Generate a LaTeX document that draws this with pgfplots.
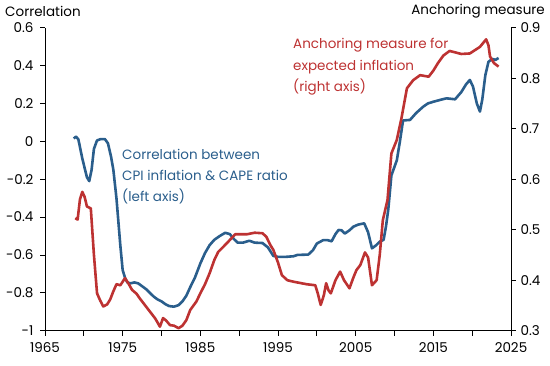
\documentclass[border=0pt]{standalone}
\usepackage{pgfplots}
\pgfplotsset{compat=1.18}
\usepackage{fontspec}
\setmainfont{Poppins}
\definecolor{cblue}{RGB}{42,94,140}
\definecolor{cred}{RGB}{189,50,50}
\begin{document}
\begin{tikzpicture}[x=1pt,y=1pt]
\path[use as bounding box] (0,0) rectangle (550,365);
\pgfplotsset{every axis/.append style={
  scale only axis, width=466pt, height=303pt,
  at={(45pt,34.3pt)}, anchor=south west,
  xmin=1965, xmax=2025,
  /pgf/number format/assume math mode=true,
  tick label style={font=\fontsize{13.5}{15}\selectfont},
  major tick length=5pt, minor tick length=5pt,
  tick align=outside,
  axis line style={line width=0.8pt},
  every tick/.style={black, line width=0.8pt},
  clip=false,
}}
\begin{axis}[
  axis x line*=bottom, axis y line*=left,
  ymin=-1, ymax=0.6,
  ytick={-1,-0.8,...,0.6},
  yticklabels={-1,-0.8,-0.6,-0.4,-0.2,0,0.2,0.4,0.6},
  xtick={1965,1975,...,2025},
  xticklabels={1965,1975,1985,1995,2005,2015,2025},
  minor xtick={1970,1980,...,2020},
  yticklabel style={xshift=-3pt},
  xticklabel style={yshift=-3pt},
]
\addplot[cblue, line width=2.6pt, line join=round] coordinates {
(1968.7,0.015)(1969.0,0.025)(1969.3,0.01)(1969.8,-0.09)(1970.4,-0.19)(1970.7,-0.21)
(1971.0,-0.15)(1971.3,-0.04)(1971.7,0.005)(1972.2,0.012)(1972.7,0.012)(1973.1,-0.01)
(1973.5,-0.08)(1973.8,-0.15)(1974.2,-0.30)(1974.7,-0.55)(1975.0,-0.68)(1975.3,-0.72)
(1975.6,-0.745)(1976.0,-0.75)(1976.5,-0.745)(1977.0,-0.75)(1977.5,-0.765)(1978.0,-0.78)
(1978.5,-0.80)(1979.0,-0.82)(1979.5,-0.835)(1980.0,-0.845)(1980.5,-0.86)(1981.0,-0.87)
(1981.6,-0.873)(1982.2,-0.865)(1982.7,-0.845)(1983.2,-0.815)(1983.7,-0.77)(1984.3,-0.72)
(1985.0,-0.645)(1985.6,-0.59)(1986.2,-0.548)(1986.8,-0.52)(1987.5,-0.50)(1988.2,-0.483)
(1988.8,-0.49)(1989.3,-0.515)(1989.8,-0.535)(1990.5,-0.535)(1991.3,-0.525)(1992.0,-0.535)
(1993.0,-0.537)(1993.7,-0.56)(1994.4,-0.605)(1995.0,-0.61)(1996.0,-0.61)(1997.0,-0.607)
(1997.5,-0.60)(1998.9,-0.598)(1999.5,-0.575)(2000.0,-0.54)(2000.8,-0.522)(2001.4,-0.522)
(2001.9,-0.528)(2002.4,-0.49)(2002.8,-0.468)(2003.2,-0.47)(2003.6,-0.487)(2004.2,-0.47)
(2004.7,-0.451)(2005.3,-0.44)(2006.1,-0.433)(2006.6,-0.48)(2007.1,-0.565)(2007.6,-0.55)
(2008.1,-0.53)(2008.6,-0.52)(2008.9,-0.45)(2009.2,-0.36)(2009.6,-0.18)(2010.3,-0.1)
(2010.7,0.0)(2011.1,0.11)(2012.0,0.113)(2012.8,0.15)(2013.7,0.183)(2014.3,0.20)
(2015.0,0.209)(2016.0,0.22)(2016.7,0.227)(2017.8,0.222)(2018.6,0.26)(2019.2,0.30)
(2019.7,0.324)(2020.1,0.29)(2020.6,0.2)(2021.0,0.157)(2021.3,0.22)(2021.7,0.35)
(2022.1,0.42)(2022.6,0.435)(2023.0,0.43)(2023.4,0.44)
};
\end{axis}
\begin{axis}[
  axis x line=none, axis y line*=right,
  ymin=0.3, ymax=0.9,
  ytick={0.3,0.4,...,0.9},
  yticklabels={0.3,0.4,0.5,0.6,0.7,0.8,0.9},
  yticklabel style={xshift=1pt},
]
\addplot[cred, line width=2.6pt, line join=round] coordinates {
(1968.9,0.523)(1969.2,0.52)(1969.5,0.56)(1969.8,0.575)(1970.1,0.565)(1970.4,0.546)
(1970.9,0.542)(1971.3,0.45)(1971.7,0.374)(1972.1,0.36)(1972.5,0.348)(1973.0,0.352)
(1973.4,0.362)(1973.8,0.378)(1974.2,0.392)(1974.7,0.39)(1975.3,0.404)(1975.8,0.392)
(1976.2,0.381)(1976.8,0.373)(1977.2,0.364)(1977.8,0.352)(1978.5,0.338)(1979.2,0.324)
(1979.8,0.308)(1980.2,0.325)(1980.6,0.32)(1981.1,0.311)(1981.6,0.31)(1982.2,0.305)
(1982.7,0.31)(1983.2,0.321)(1983.7,0.341)(1984.5,0.358)(1985.0,0.374)(1985.6,0.392)
(1986.2,0.414)(1986.8,0.44)(1987.3,0.456)(1988.4,0.473)(1989.0,0.483)(1989.5,0.491)
(1991.0,0.491)(1992.0,0.494)(1993.0,0.493)(1993.5,0.486)(1994.0,0.47)(1994.4,0.46)
(1995.0,0.435)(1995.5,0.41)(1996.2,0.40)(1997.0,0.397)(1998.7,0.392)(1999.8,0.39)
(2000.1,0.375)(2000.5,0.351)(2000.9,0.37)(2001.2,0.394)(2001.5,0.38)(2001.8,0.374)
(2002.4,0.40)(2003.0,0.417)(2003.5,0.40)(2004.2,0.384)(2004.7,0.405)(2005.1,0.42)
(2005.6,0.43)(2006.2,0.455)(2006.6,0.445)(2007.1,0.39)(2007.7,0.40)(2008.1,0.45)
(2008.5,0.519)(2009.1,0.559)(2009.6,0.651)(2010.3,0.678)(2010.9,0.721)(2011.6,0.78)
(2012.4,0.796)(2013.3,0.806)(2014.4,0.803)(2015.0,0.815)(2015.6,0.83)(2016.3,0.845)
(2017.1,0.854)(2018.6,0.848)(2019.7,0.849)(2020.3,0.855)(2021.0,0.862)(2021.8,0.877)
(2022.1,0.865)(2022.3,0.843)(2022.8,0.83)(2023.4,0.823)
};
\end{axis}
\begin{scope}[every node/.style={font=\fontsize{13.5}{15}\selectfont, inner sep=0pt}]
\node[anchor=base west] at (5,348) {Correlation};
\node[anchor=base east] at (545,350) {Anchoring measure};
\node[anchor=base west, text=cblue] at (122,205) {Correlation between};
\node[anchor=base west, text=cblue] at (122,184) {CPI inflation \& CAPE ratio};
\node[anchor=base west, text=cblue] at (122,163) {(left axis)};
\node[anchor=base west, text=cred] at (293,316) {Anchoring measure for};
\node[anchor=base west, text=cred] at (293,294) {expected inflation};
\node[anchor=base west, text=cred] at (293,273) {(right axis)};
\end{scope}
\end{tikzpicture}
\end{document}
